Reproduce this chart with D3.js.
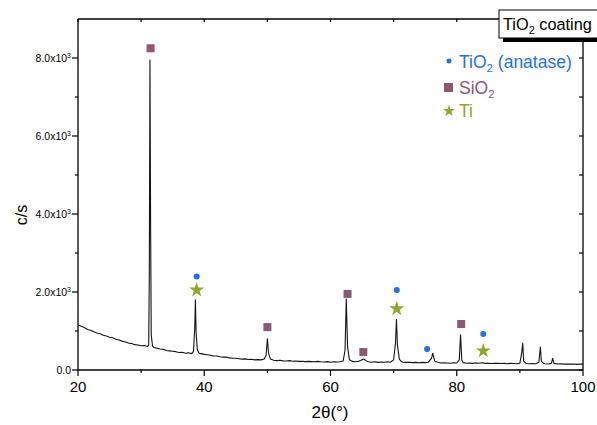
<!DOCTYPE html>
<html>
<head>
<meta charset="utf-8">
<script src="https://cdn.jsdelivr.net/npm/d3@7"></script>
<style>
body { margin: 0; background: #fff; }
text { font-family: "Liberation Sans", Arial, sans-serif; }
</style>
</head>
<body>
<div id="chart"></div>
<script>
const widthChart = 597;
const heightChart = 425;

// XRD scan: 2theta (deg) and counts (c/s)
const scanAngle = [
  20.0, 20.5, 21.0, 21.5, 22.0, 22.5, 23.0, 23.5, 24.0, 24.5, 25.0, 25.5, 26.0, 26.5, 27.0, 27.5,
  28.0, 28.5, 29.0, 29.5, 30.0, 30.5, 31.0, 31.2, 31.3, 31.4, 31.5, 31.6, 31.8, 32.0, 32.5, 33.0,
  33.5, 34.0, 34.5, 35.0, 35.5, 36.0, 36.5, 37.0, 37.5, 38.0, 38.3, 38.5, 38.6, 38.7, 38.9, 39.2,
  39.5, 40.0, 40.5, 41.0, 41.5, 42.0, 42.5, 43.0, 43.5, 44.0, 44.5, 45.0, 45.5, 46.0, 46.5, 47.0,
  47.5, 48.0, 48.5, 49.0, 49.5, 49.8, 50.0, 50.2, 50.5, 51.0, 51.5, 52.0, 52.5, 53.0, 53.5, 54.0,
  54.5, 55.0, 55.5, 56.0, 56.5, 57.0, 57.5, 58.0, 58.5, 59.0, 59.5, 60.0, 60.5, 61.0, 61.5, 62.0,
  62.3, 62.5, 62.7, 63.0, 63.5, 64.0, 64.5, 65.0, 65.3, 65.7, 66.0, 66.5, 67.0, 67.5, 68.0, 68.5,
  69.0, 69.5, 70.0, 70.3, 70.45, 70.6, 70.9, 71.2, 71.5, 72.0, 72.5, 73.0, 73.5, 74.0, 74.5, 75.0,
  75.5, 76.0, 76.2, 76.5, 77.0, 77.5, 78.0, 78.5, 79.0, 79.5, 80.0, 80.4, 80.6, 80.8, 81.0, 81.5,
  82.0, 82.5, 83.0, 83.5, 84.0, 84.5, 85.0, 85.5, 86.0, 86.5, 87.0, 87.5, 88.0, 88.5, 89.0, 89.5,
  90.0, 90.3, 90.45, 90.6, 91.0, 91.5, 92.0, 92.5, 93.0, 93.25, 93.4, 93.8, 94.0, 94.5, 95.0, 95.2,
  95.4, 96.0, 96.5, 97.0, 97.5, 98.0, 98.5, 99.0, 99.5, 100.0
];
const scanCounts = [
  1160, 1120, 1090, 1040, 1020, 980, 950, 930, 890, 870, 840, 830, 790, 770, 740, 720,
  690, 680, 650, 640, 620, 630, 600, 640, 2500, 7950, 3800, 900, 620, 580, 560, 540,
  530, 500, 490, 480, 470, 450, 455, 430, 440, 420, 480, 1100, 1800, 1000, 520, 430,
  420, 400, 390, 380, 360, 360, 340, 330, 330, 310, 300, 300, 290, 280, 285, 270,
  275, 260, 265, 260, 280, 380, 800, 420, 280, 250, 240, 250, 235, 230, 240, 225,
  230, 220, 225, 215, 220, 215, 210, 220, 210, 205, 215, 200, 210, 205, 210, 230,
  500, 1820, 600, 260, 220, 210, 225, 260, 280, 230, 210, 200, 210, 195, 205, 200,
  210, 200, 260, 700, 1300, 650, 280, 220, 200, 195, 200, 190, 195, 185, 195, 190,
  200, 300, 430, 230, 200, 180, 185, 180, 175, 185, 180, 260, 900, 250, 190, 175,
  180, 170, 180, 175, 185, 170, 175, 165, 170, 175, 165, 170, 160, 170, 165, 160,
  175, 450, 690, 230, 165, 160, 165, 160, 200, 590, 220, 165, 160, 155, 170, 300,
  170, 155, 160, 150, 155, 150, 155, 145, 150, 150
];

// phase markers
const anataseAngle = [38.8, 70.5, 75.3, 84.2];
const anataseCounts = [2400, 2050, 540, 920];
const sio2Angle = [31.5, 50.0, 62.7, 65.2, 80.7];
const sio2Counts = [8250, 1100, 1950, 460, 1180];
const tiAngle = [38.8, 70.5, 84.2];
const tiCounts = [2050, 1570, 490];

const xTicks = [20, 40, 60, 80, 100];
const xMinorTicks = [30, 50, 70, 90];
const yTicks = [0, 2000, 4000, 6000, 8000];
const yMinorTicks = [1000, 3000, 5000, 7000];

const colAnatase = "#1f6ff0";
const colSio2 = "#8c5a70";
const colTi = "#94a62a";

const plotLeft = 78, plotRight = 583, plotTop = 19, plotBottom = 370;

const svg = d3.select("#chart")
    .append("svg")
    .attr("width", widthChart)
    .attr("height", heightChart);

const x = d3.scaleLinear().domain([20, 100]).range([plotLeft, plotRight]);
const y = d3.scaleLinear().domain([0, 9000]).range([plotBottom, plotTop]);

// frame lines
svg.append("line").attr("x1", plotLeft).attr("x2", plotLeft).attr("y1", plotTop).attr("y2", plotBottom)
    .attr("stroke", "#000").attr("stroke-width", 1.3);
svg.append("line").attr("x1", plotLeft).attr("x2", plotRight).attr("y1", plotBottom).attr("y2", plotBottom)
    .attr("stroke", "#000").attr("stroke-width", 1.3);
svg.append("line").attr("x1", plotLeft).attr("x2", plotRight).attr("y1", plotTop).attr("y2", plotTop)
    .attr("stroke", "#000").attr("stroke-width", 1.3);
svg.append("line").attr("x1", plotRight).attr("x2", plotRight).attr("y1", 42).attr("y2", plotBottom)
    .attr("stroke", "#000").attr("stroke-width", 1.3);

// bottom ticks
svg.selectAll(".xt").data(xTicks).enter().append("line")
    .attr("x1", d => x(d)).attr("x2", d => x(d))
    .attr("y1", plotBottom).attr("y2", plotBottom + 6)
    .attr("stroke", "#000").attr("stroke-width", 1.2);
svg.selectAll(".xm").data(xMinorTicks).enter().append("line")
    .attr("x1", d => x(d)).attr("x2", d => x(d))
    .attr("y1", plotBottom).attr("y2", plotBottom + 3)
    .attr("stroke", "#000").attr("stroke-width", 1.2);
svg.selectAll(".xl").data(xTicks).enter().append("text")
    .attr("x", d => x(d)).attr("y", 392)
    .attr("text-anchor", "middle")
    .attr("font-size", 15)
    .text(d => d);

// top ticks (inward)
svg.selectAll(".tt").data(xTicks.concat(xMinorTicks).filter(d => x(d) < 495)).enter().append("line")
    .attr("x1", d => x(d)).attr("x2", d => x(d))
    .attr("y1", plotTop).attr("y2", plotTop + 3)
    .attr("stroke", "#000").attr("stroke-width", 1.2);

// left ticks
svg.selectAll(".yt").data(yTicks).enter().append("line")
    .attr("x1", plotLeft - 6).attr("x2", plotLeft)
    .attr("y1", d => y(d)).attr("y2", d => y(d))
    .attr("stroke", "#000").attr("stroke-width", 1.2);
svg.selectAll(".ym").data(yMinorTicks).enter().append("line")
    .attr("x1", plotLeft - 3).attr("x2", plotLeft)
    .attr("y1", d => y(d)).attr("y2", d => y(d))
    .attr("stroke", "#000").attr("stroke-width", 1.2);
const yl = svg.selectAll(".yl").data(yTicks).enter().append("text")
    .attr("x", plotLeft - 7).attr("y", d => y(d) + 3.5)
    .attr("text-anchor", "end")
    .attr("font-size", 10.5);
yl.each(function (d) {
    const t = d3.select(this);
    if (d === 0) { t.text("0.0"); return; }
    t.append("tspan").text((d / 1000).toFixed(1) + "x10");
    t.append("tspan").attr("dy", -4).attr("font-size", 7).text("3");
});

// right ticks (inward)
svg.selectAll(".rt").data(yTicks.concat(yMinorTicks)).enter().append("line")
    .attr("x1", plotRight - 4).attr("x2", plotRight)
    .attr("y1", d => y(d)).attr("y2", d => y(d))
    .attr("stroke", "#000").attr("stroke-width", 1.2);

// axis titles
svg.append("text")
    .attr("transform", "translate(27,215) rotate(-90)")
    .attr("text-anchor", "middle")
    .attr("font-size", 16)
    .text("c/s");
svg.append("text")
    .attr("x", 330).attr("y", 418)
    .attr("text-anchor", "middle")
    .attr("font-size", 17)
    .attr("font-family", "'DejaVu Serif', serif")
    .text("2θ(°)");

// scan line
const scan = scanAngle.map((a, i) => ({ a: a, c: scanCounts[i] }));
const line = d3.line().x(d => x(d.a)).y(d => y(d.c));
svg.append("path")
    .datum(scan)
    .attr("d", line)
    .attr("fill", "none")
    .attr("stroke", "#141414")
    .attr("stroke-width", 1.1)
    .attr("stroke-linejoin", "round");

// markers
const star = d3.symbol().type(d3.symbolStar).size(70);
const sq = 8;

svg.selectAll(".sio2").data(sio2Angle).enter().append("rect")
    .attr("x", d => x(d) - sq / 2)
    .attr("y", (d, i) => y(sio2Counts[i]) - sq / 2)
    .attr("width", sq).attr("height", sq)
    .attr("fill", colSio2);
svg.selectAll(".ana").data(anataseAngle).enter().append("circle")
    .attr("cx", d => x(d))
    .attr("cy", (d, i) => y(anataseCounts[i]))
    .attr("r", 3)
    .attr("fill", colAnatase);
svg.selectAll(".ti").data(tiAngle).enter().append("path")
    .attr("d", star)
    .attr("transform", (d, i) => "translate(" + x(d) + "," + y(tiCounts[i]) + ")")
    .attr("fill", colTi);

// legend
const lg = svg.append("g").attr("font-size", 17.5);
lg.append("circle").attr("cx", 449).attr("cy", 61).attr("r", 2.5).attr("fill", colAnatase);
const t1 = lg.append("text").attr("x", 459).attr("y", 68).attr("fill", colAnatase);
t1.append("tspan").text("TiO");
t1.append("tspan").attr("dy", 4).attr("font-size", 11.5).text("2");
t1.append("tspan").attr("dy", -4).text(" (anatase)");

lg.append("rect").attr("x", 444).attr("y", 83).attr("width", 9).attr("height", 9).attr("fill", colSio2);
const t2 = lg.append("text").attr("x", 459).attr("y", 94).attr("fill", colSio2);
t2.append("tspan").text("SiO");
t2.append("tspan").attr("dy", 4).attr("font-size", 11.5).text("2");

lg.append("path").attr("d", d3.symbol().type(d3.symbolStar).size(45))
    .attr("transform", "translate(449,111)").attr("fill", colTi);
lg.append("text").attr("x", 459).attr("y", 117).attr("fill", colTi).text("Ti");

// sample label box
svg.append("rect").attr("x", 503).attr("y", 38).attr("width", 100).attr("height", 4).attr("fill", "#000");
svg.append("rect").attr("x", 499).attr("y", 10).attr("width", 110).attr("height", 28)
    .attr("fill", "#fff").attr("stroke", "#000").attr("stroke-width", 1);
const bt = svg.append("text").attr("x", 503).attr("y", 30).attr("font-size", 16.3);
bt.append("tspan").text("TiO");
bt.append("tspan").attr("dy", 4).attr("font-size", 11).text("2");
bt.append("tspan").attr("dy", -4).text(" coating");
</script>
</body>
</html>
